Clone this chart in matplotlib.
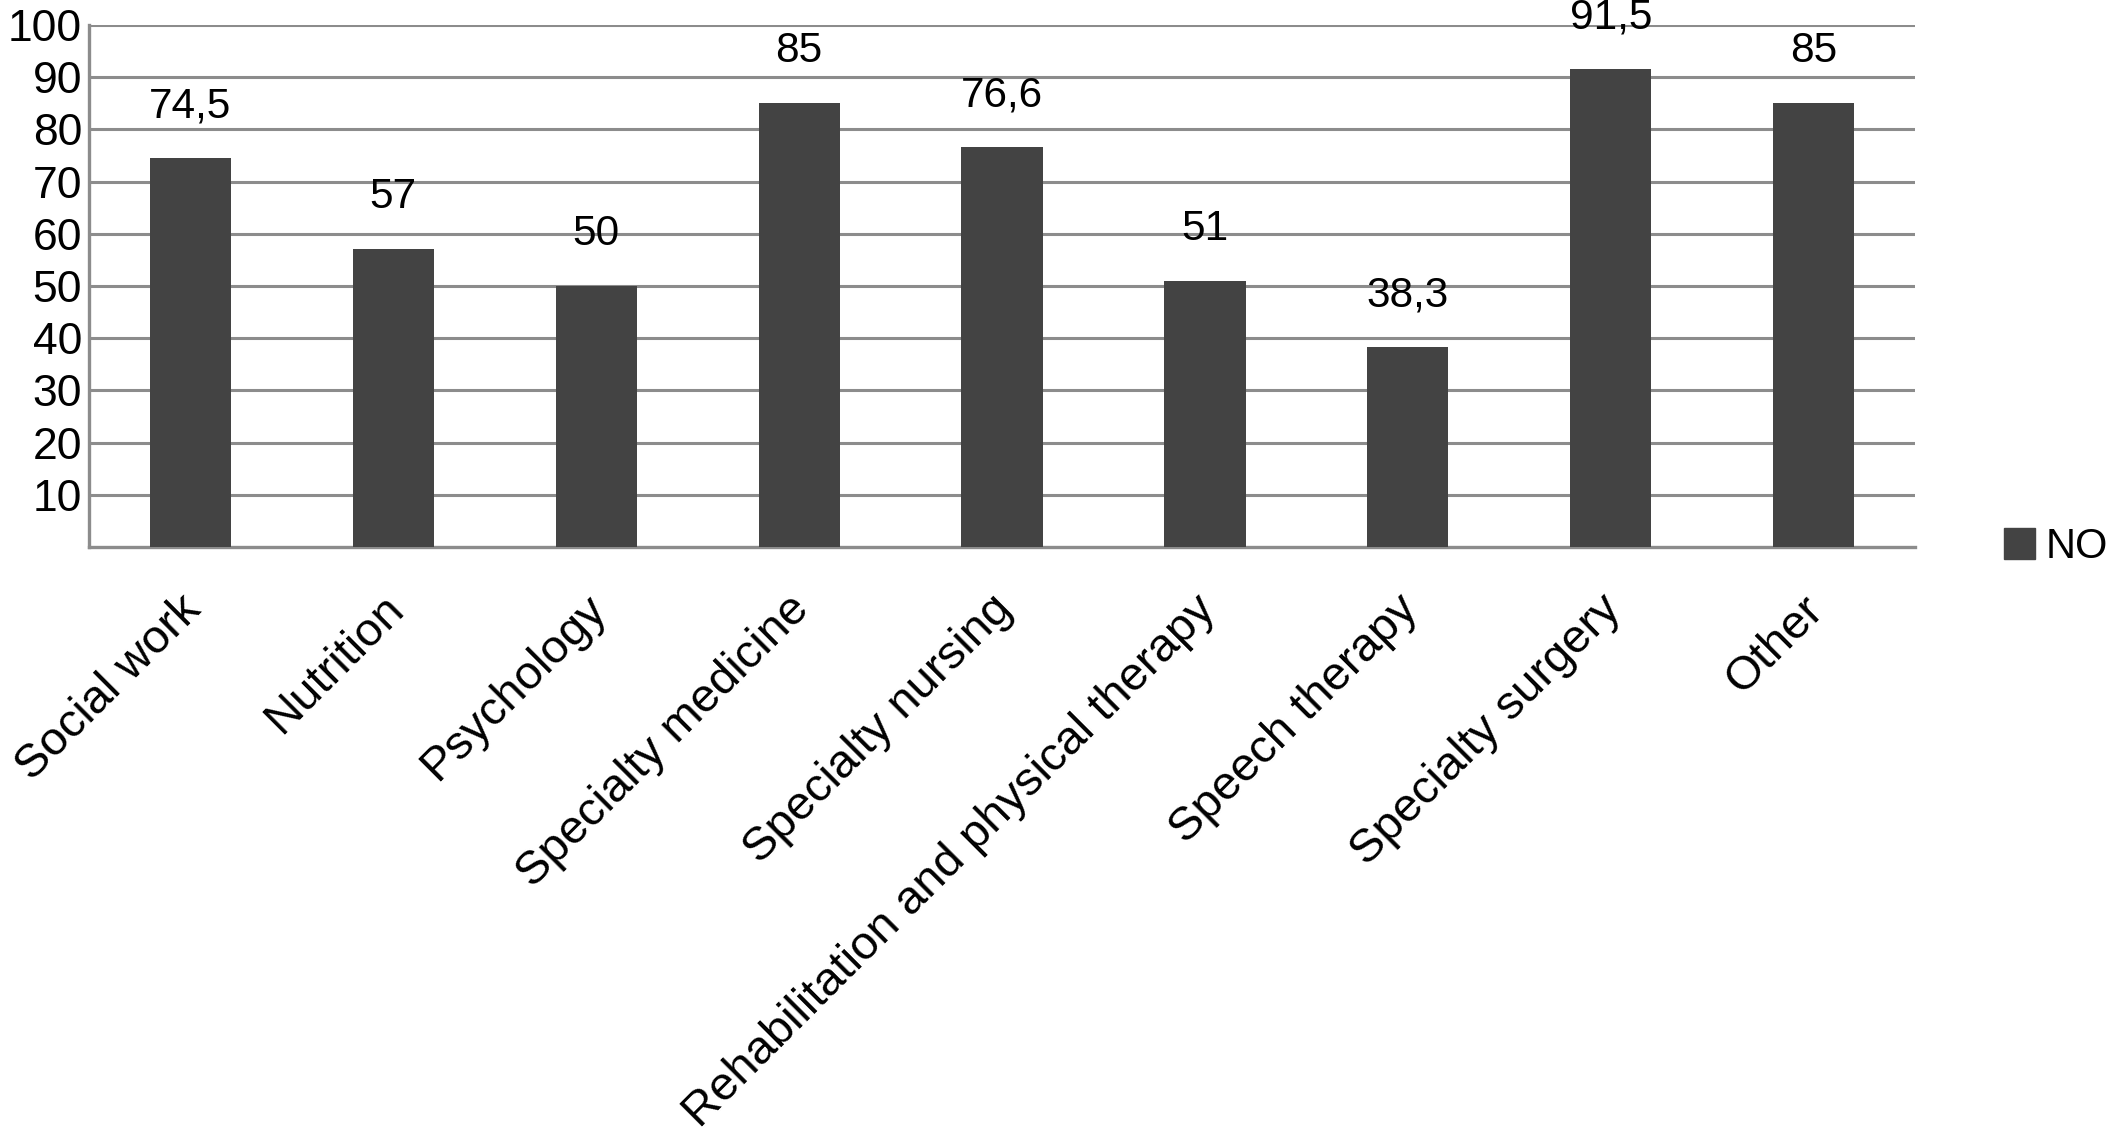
import matplotlib
matplotlib.use('Agg')
import matplotlib.pyplot as plt
from matplotlib.patches import Patch
from matplotlib.transforms import ScaledTranslation

plt.rcParams['font.family'] = ['Liberation Sans', 'DejaVu Sans']

# Данные с графика
categories = ['Social work', 'Nutrition', 'Psychology', 'Specialty medicine',
              'Specialty nursing', 'Rehabilitation and physical therapy',
              'Speech therapy', 'Specialty surgery', 'Other']
values = [74.5, 57, 50, 85, 76.6, 51, 38.3, 91.5, 85]
value_labels = ['74,5', '57', '50', '85', '76,6', '51', '38,3', '91,5', '85']
y_ticks = [10, 20, 30, 40, 50, 60, 70, 80, 90, 100]
series_name = 'NO'

bar_color = '#434343'
grid_color = '#8c8c8c'

fig = plt.figure(figsize=(21.08, 11.34), dpi=100)
ax = fig.add_axes([0.0422, 0.5176, 0.8663, 0.4604])

x = list(range(len(categories)))
bars = ax.bar(x, values, width=0.40, color=bar_color, zorder=3)

for xi, v, lab in zip(x, values, value_labels):
    ax.annotate(lab, (xi, v), xytext=(0, 29.5), textcoords='offset points',
                ha='center', va='baseline', fontsize=30.5, color='black',
                annotation_clip=False, zorder=4)

ax.set_xlim(-0.5, len(categories) - 0.5)
ax.set_ylim(0, 100)
ax.set_yticks(y_ticks)
ax.set_yticklabels([str(t) for t in y_ticks], fontsize=32)
ax.set_xticks(x)
ax.set_xticklabels([])
ax.tick_params(axis='x', length=0)
ax.tick_params(axis='y', length=0, pad=5)

# подписи категорий под углом 45
lab_trans = ax.get_xaxis_transform() + ScaledTranslation(-12 / 100, -40 / 100, fig.dpi_scale_trans)
for xi, name in zip(x, categories):
    ax.text(xi, 0, name, transform=lab_trans, fontsize=34, rotation=45,
            ha='right', va='top', rotation_mode='anchor', clip_on=False)

ax.yaxis.grid(True, color=grid_color, linewidth=2.2, zorder=0)
ax.set_axisbelow(True)
for side in ['top', 'right']:
    ax.spines[side].set_visible(False)
for side in ['left', 'bottom']:
    ax.spines[side].set_color(grid_color)
    ax.spines[side].set_linewidth(2.4)

handle = Patch(facecolor=bar_color, edgecolor=bar_color)
fig.legend([handle], [series_name], loc='center left',
           bbox_to_anchor=(0.9507, 0.5176), frameon=False, fontsize=30,
           handlelength=0.75, handleheight=0.75, handletextpad=0.25,
           borderpad=0, borderaxespad=0)

fig.savefig('out.png', dpi=100)
